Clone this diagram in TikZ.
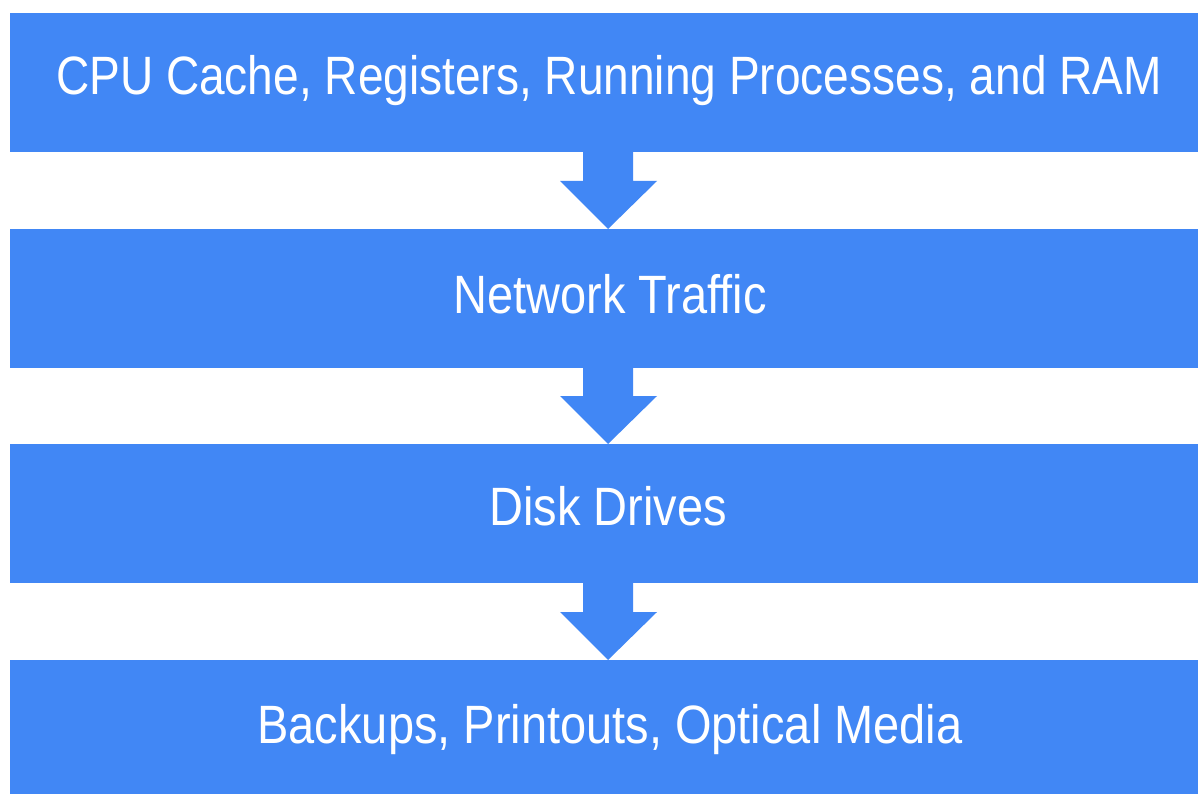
\documentclass[tikz,border=0pt]{standalone}
\usepackage{fontspec}
\setmainfont[FakeStretch=0.87]{Liberation Sans}
\newfontfamily\tighterfont[FakeStretch=0.853]{Liberation Sans}
\usetikzlibrary{calc}
\definecolor{boxblue}{RGB}{65,135,245}
\tikzset{
  layerbox/.style={fill=boxblue, draw=none, inner sep=0pt, outer sep=0pt, anchor=north west},
  layertext/.style={text=white, inner sep=0pt, anchor=base, font=\fontsize{54}{60}\selectfont},
  flowfill/.style={fill=boxblue, draw=none}
}
\newcommand\flowarrow[2]{%
  \fill[flowfill] ($(#1.south)+(-21,0)$) -- ($(#1.south)+(29,0)$) --
    ($(#2.north)+(29,-48)$) -- ($(#2.north)+(53,-48)$) -- ($(#2.north)+(4,0)$) --
    ($(#2.north)+(-44,-48)$) -- ($(#2.north)+(-21,-48)$) -- cycle;}
\begin{document}
\begin{tikzpicture}[x=1pt,y=-1pt]
\useasboundingbox[fill=white] (0,0) rectangle (1198,794);
\node[layerbox, minimum width=1188pt, minimum height=139pt] (b1) at (10,13) {};
\node[layerbox, minimum width=1188pt, minimum height=139pt] (b2) at (10,229) {};
\node[layerbox, minimum width=1188pt, minimum height=139pt] (b3) at (10,444) {};
\node[layerbox, minimum width=1188pt, minimum height=134pt] (b4) at (10,660) {};
\node[layertext] (t1) at (609,95) {\tighterfont CPU Cache, Registers, Running Processes, and RAM};
\node[layertext] (t2) at (610,313) {Network Traffic};
\node[layertext] (t3) at (608,525) {Disk Drives};
\node[layertext] (t4) at (610,743) {Backups, Printouts, Optical Media};
\flowarrow{b1}{b2}
\flowarrow{b2}{b3}
\flowarrow{b3}{b4}
\end{tikzpicture}
\end{document}
